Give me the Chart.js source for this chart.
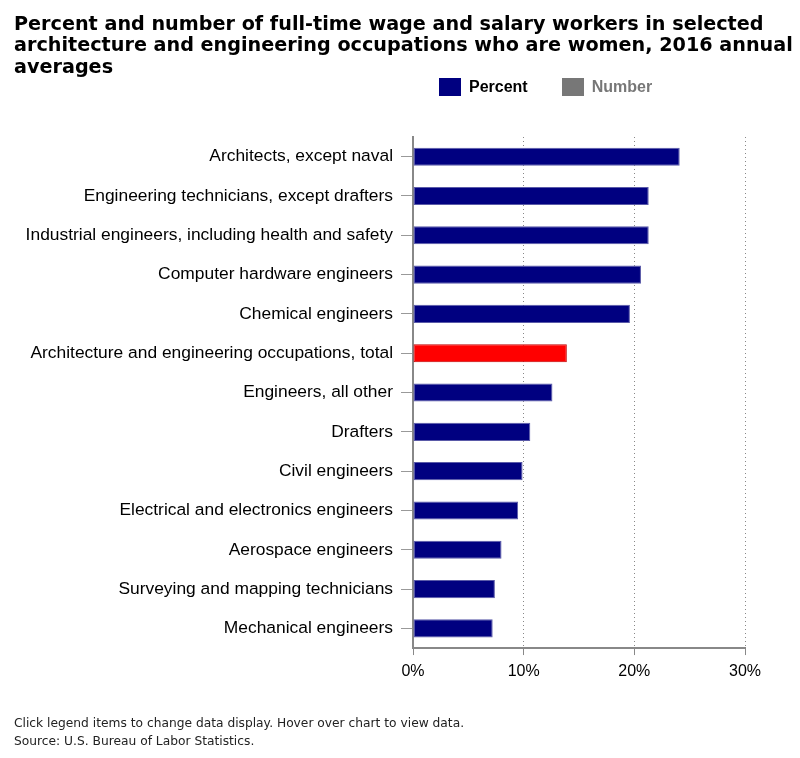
<!DOCTYPE html>
<html lang="en">
<head>
    <meta charset="UTF-8">
    <title>Women in architecture and engineering occupations</title>
    <script src="https://cdn.jsdelivr.net/npm/chart.js"></script>
    <style>
        body { margin: 0; background: #fff; }
        #wrap { position: relative; width: 800px; height: 758px; }
        #legend { position: absolute; left: 439px; top: 78px; display: flex; font: bold 16px 'Liberation Sans', Arial, sans-serif; }
        .item { display: flex; align-items: center; margin-right: 34px; cursor: pointer; }
        .box { width: 22px; height: 18px; margin-right: 8px; }
    </style>
</head>
<body>
    <div id="wrap">
        <canvas id="chart" width="800" height="758"></canvas>
        <div id="legend">
            <div class="item"><span class="box" style="background:#000080"></span><span>Percent</span></div>
            <div class="item" style="color:#777"><span class="box" style="background:#777"></span><span>Number</span></div>
        </div>
    </div>

    <script>
        const occupations = [
            'Architects, except naval',
            'Engineering technicians, except drafters',
            'Industrial engineers, including health and safety',
            'Computer hardware engineers',
            'Chemical engineers',
            'Architecture and engineering occupations, total',
            'Engineers, all other',
            'Drafters',
            'Civil engineers',
            'Electrical and electronics engineers',
            'Aerospace engineers',
            'Surveying and mapping technicians',
            'Mechanical engineers'
        ];
        const percentWomen = [24.1, 21.3, 21.3, 20.6, 19.6, 13.9, 12.6, 10.6, 9.9, 9.5, 8.0, 7.4, 7.2];
        const xTicks = [0, 10, 20, 30];
        const totalLabel = 'Architecture and engineering occupations, total';

        const barColors = occupations.map(o => o === totalLabel ? '#ff0000' : '#000080');
        const barBorders = occupations.map(o => o === totalLabel ? '#c00000' : '#5a5aa8');

        const ctx = document.getElementById('chart').getContext('2d');
        const chart = new Chart(ctx, {
            type: 'bar',
            data: {
                labels: occupations,
                datasets: [{
                    label: 'Percent',
                    data: percentWomen,
                    backgroundColor: barColors,
                    borderColor: barBorders,
                    borderWidth: 1,
                    borderSkipped: false,
                    categoryPercentage: 1,
                    barPercentage: 0.46
                }]
            },
            options: {
                indexAxis: 'y',
                responsive: false,
                animation: false,
                layout: { padding: { left: 14, right: 0, top: 0, bottom: 0 } },
                plugins: {
                    legend: { display: false },
                    title: {
                        display: true,
                        align: 'start',
                        text: [
                            'Percent and number of full-time wage and salary workers in selected',
                            'architecture and engineering occupations who are women, 2016 annual',
                            'averages'
                        ],
                        color: '#000',
                        font: { family: "'DejaVu Sans', sans-serif", size: 19.2, weight: 'bold', lineHeight: 1.12 },
                        padding: { top: 14, bottom: 58.5 }
                    },
                    subtitle: {
                        display: true,
                        position: 'bottom',
                        align: 'start',
                        text: [
                            'Click legend items to change data display. Hover over chart to view data.',
                            'Source: U.S. Bureau of Labor Statistics.'
                        ],
                        color: '#222',
                        font: { family: "'DejaVu Sans', sans-serif", size: 12.25, lineHeight: 1.5 },
                        padding: { top: 26, bottom: 7 }
                    },
                    tooltip: {
                        callbacks: { label: c => 'Percent: ' + c.parsed.x + '%' }
                    }
                },
                scales: {
                    x: {
                        min: 0,
                        max: 30,
                        afterBuildTicks: s => { s.ticks = xTicks.map(v => ({ value: v })); },
                        afterFit: s => { s.paddingRight = 55; },
                        ticks: {
                            color: '#000',
                            padding: 7,
                            font: { family: "'Liberation Sans', Arial, sans-serif", size: 16 },
                            callback: v => v + '%'
                        },
                        grid: {
                            drawTicks: true,
                            tickLength: 7,
                            tickColor: '#888',
                            tickBorderDash: [],
                            color: c => c.tick && c.tick.value === 0 ? 'rgba(0,0,0,0)' : '#888'
                        },
                        border: { display: true, color: '#888', width: 2, dash: [1, 3] }
                    },
                    y: {
                        afterFit: s => { s.width = 399; },
                        ticks: {
                            color: '#000',
                            padding: 8,
                            font: { family: "'Liberation Sans', Arial, sans-serif", size: 17.4 }
                        },
                        grid: {
                            offset: false,
                            drawOnChartArea: false,
                            tickLength: 12,
                            color: '#999'
                        },
                        border: { display: true, color: '#888', width: 2 }
                    }
                }
            }
        });
    </script>
</body>
</html>
